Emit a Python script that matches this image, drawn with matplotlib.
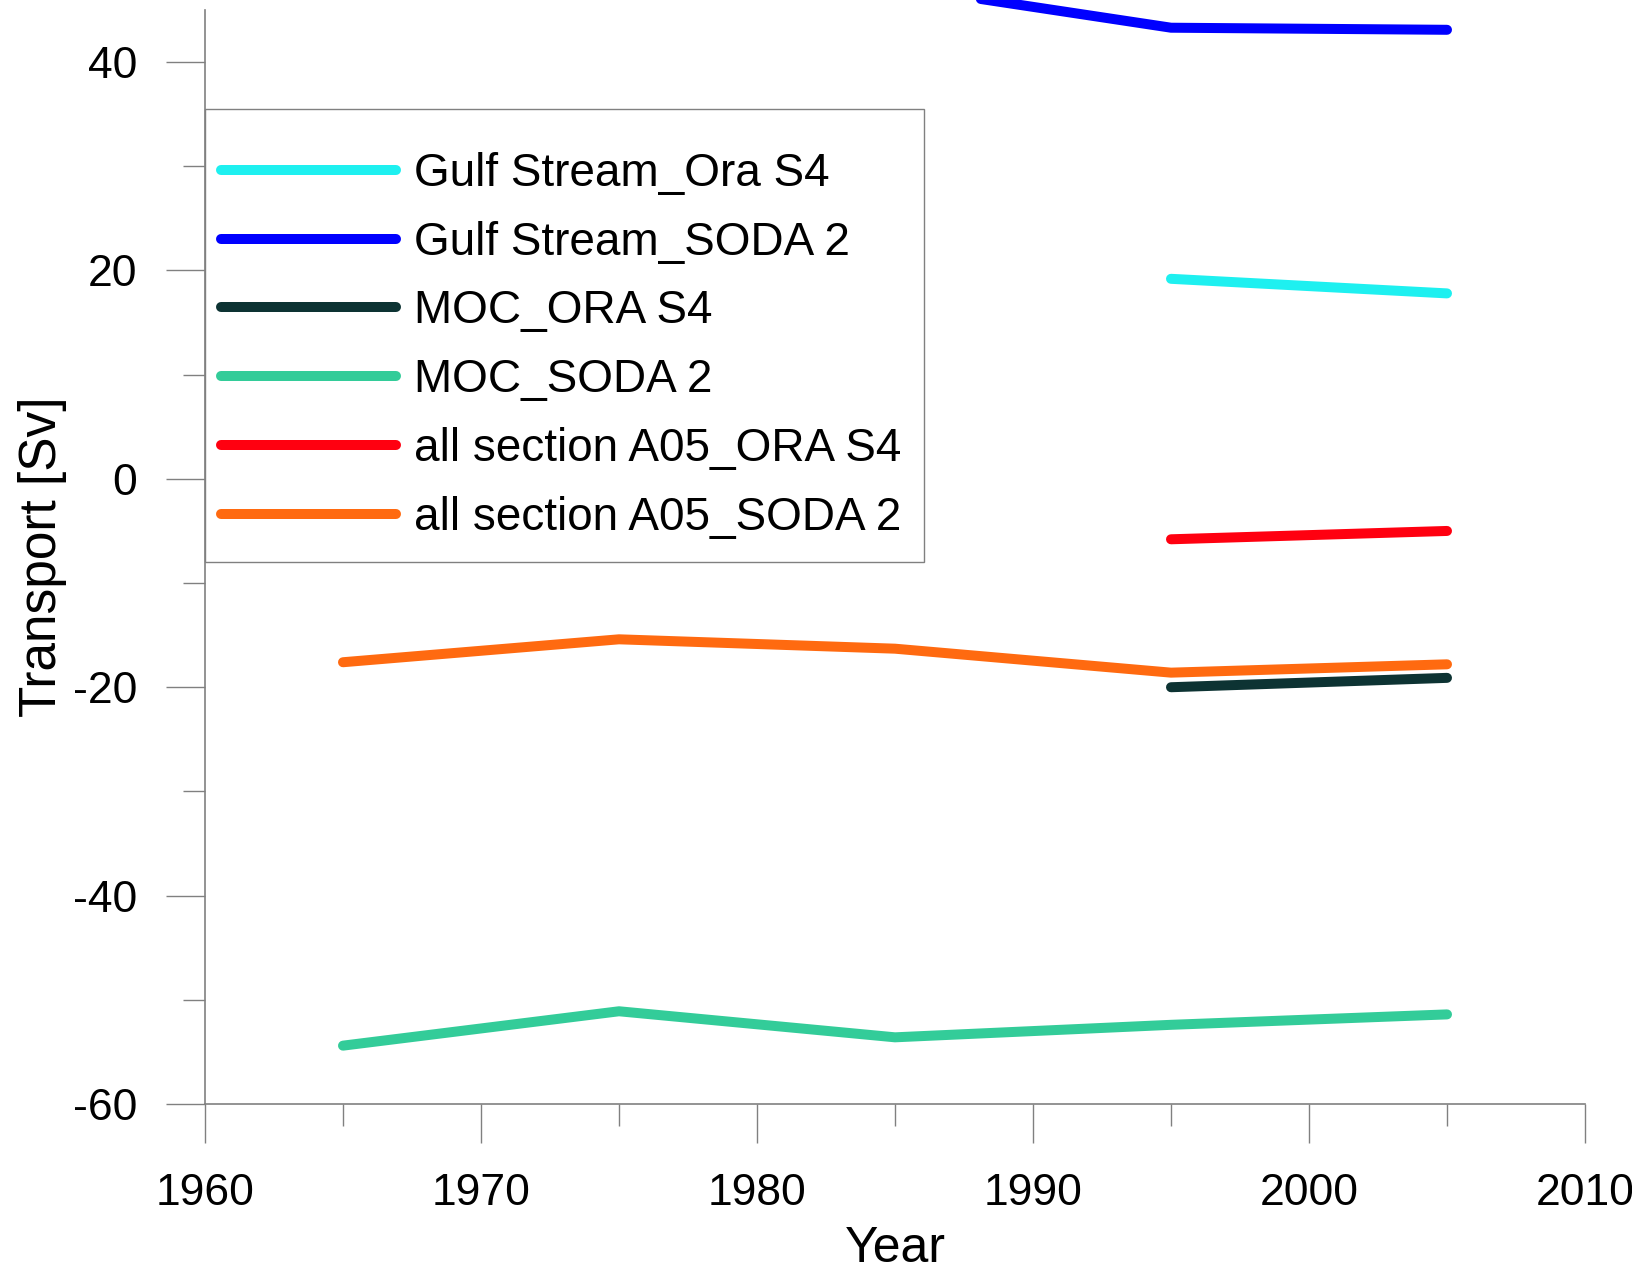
import matplotlib
matplotlib.use("Agg")
import matplotlib.pyplot as plt
from matplotlib.patches import Rectangle
from matplotlib.ticker import MultipleLocator

plt.rcParams['font.family'] = ['Liberation Sans', 'DejaVu Sans']
plt.rcParams['axes.unicode_minus'] = False

# Decadal mean transports (Sv)
years_all = [1965, 1975, 1985, 1995, 2005]
years_ora = [1995, 2005]

gulf_ora = [19.2, 17.8]
gulf_soda = [46.25, 46.9, 47.3, 43.3, 43.1]
moc_ora = [-20.0, -19.1]
moc_soda = [-54.4, -51.1, -53.6, -52.4, -51.4]
a05_ora = [-5.8, -5.0]
a05_soda = [-17.6, -15.4, -16.3, -18.6, -17.8]

series = [
    ("Gulf Stream_Ora S4", years_ora, gulf_ora, "#1ef0f0"),
    ("Gulf Stream_SODA 2", years_all, gulf_soda, "#0000ff"),
    ("MOC_ORA S4", years_ora, moc_ora, "#0d3333"),
    ("MOC_SODA 2", years_all, moc_soda, "#33cc99"),
    ("all section A05_ORA S4", years_ora, a05_ora, "#ff0010"),
    ("all section A05_SODA 2", years_all, a05_soda, "#ff6a10"),
]

W, H = 1633, 1271
fig = plt.figure(figsize=(W / 100, H / 100), dpi=100)
left, right = 205 / W, 1585 / W
bottom = 1 - 1104 / H
top = 1 - 10 / H
ax = fig.add_axes([left, bottom, right - left, top - bottom])

for label, x, y, c in series:
    ax.plot(x, y, color=c, lw=7.2, solid_capstyle='round', label=label,
            clip_on=False)

ax.set_xlim(1960, 2010)
ax.set_ylim(-60, 45)
ax.xaxis.set_major_locator(MultipleLocator(10))
ax.xaxis.set_minor_locator(MultipleLocator(5))
ax.yaxis.set_major_locator(MultipleLocator(20))
ax.yaxis.set_minor_locator(MultipleLocator(10))

grey = "#808080"
for s in ("top", "right"):
    ax.spines[s].set_visible(False)
for s in ("left", "bottom"):
    ax.spines[s].set_color(grey)
    ax.spines[s].set_linewidth(1.2)

ax.tick_params(which='major', length=28, width=1.0, color=grey, labelsize=32,
               direction='out')
ax.tick_params(which='minor', length=16, width=1.0, color=grey, direction='out')
ax.tick_params(axis='x', which='major', pad=22)
ax.tick_params(axis='y', which='major', pad=21)

ax.set_xlabel("Year", fontsize=36, labelpad=8)
ax.set_ylabel("Transport [Sv]", fontsize=37, labelpad=4)

# Legend box drawn as a separate patch beneath the legend entries
ax.add_patch(Rectangle((205 / W, 1 - 562 / H), 719 / W, 453 / H,
                       transform=fig.transFigure, facecolor='white',
                       edgecolor=grey, linewidth=1.0, zorder=4, clip_on=False))

fs_pt = 33
fs_px = fs_pt * 100 / 72
leg = ax.legend(loc='upper left', bbox_to_anchor=(221 / W, 1 - 152 / H),
                bbox_transform=fig.transFigure, borderaxespad=0, borderpad=0,
                fontsize=fs_pt, handlelength=175 / fs_px,
                handletextpad=18 / fs_px, labelspacing=0.54, frameon=False)
leg.set_zorder(5)

fig.savefig("out.png", dpi=100)
